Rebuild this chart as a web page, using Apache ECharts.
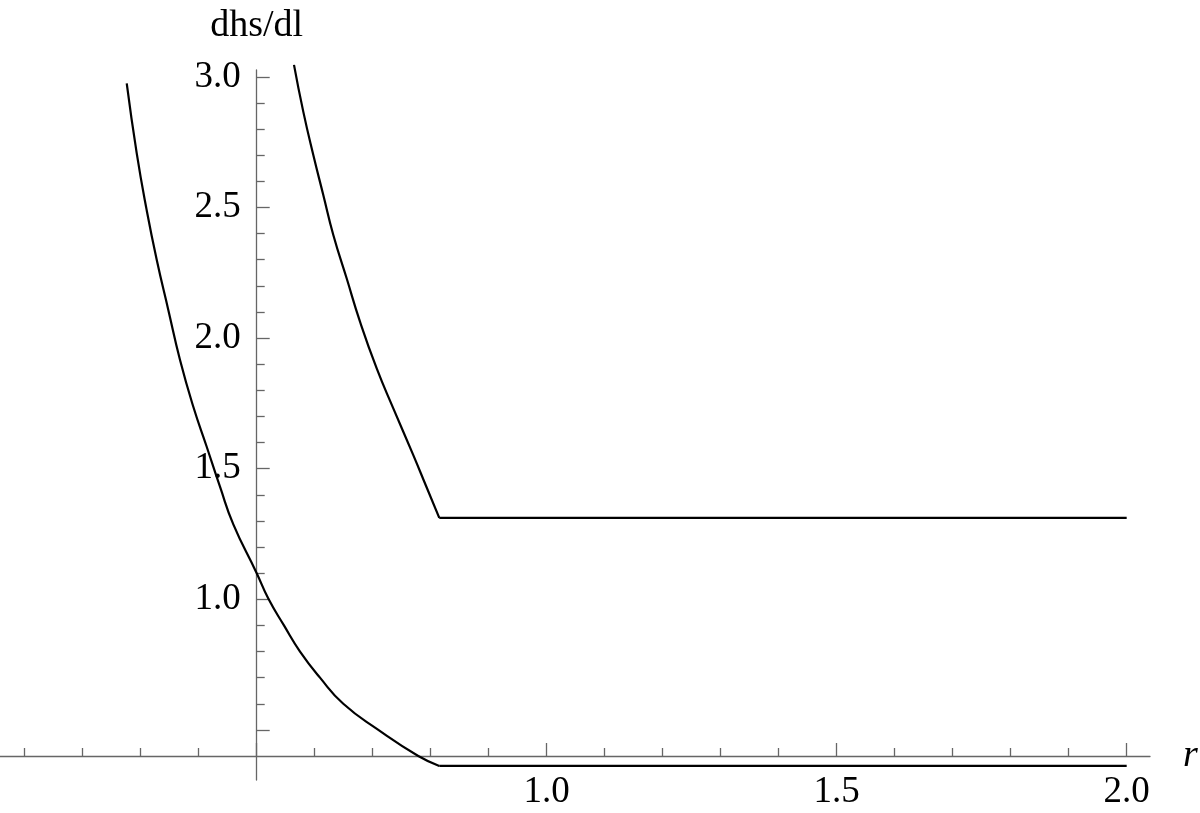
<!DOCTYPE html>
<html>
<head>
<meta charset="utf-8">
<title>dhs/dl</title>
<script src="https://cdn.jsdelivr.net/npm/echarts@6/dist/echarts.min.js"></script>
<style>
  html, body { margin: 0; padding: 0; background: #fff; }
  #chart { width: 1200px; height: 813px; }
</style>
</head>
<body>
<div id="chart"></div>
<script>
// curves
var lowerR = [0.2759, 0.2931, 0.3103, 0.3276, 0.3476, 0.3678, 0.3907, 0.4138, 0.4367, 0.4597, 0.5000, 0.5200, 0.5470, 0.5747, 0.6091, 0.6493, 0.7097, 0.7786, 0.8148];
var lowerH = [2.975, 2.708, 2.490, 2.300, 2.108, 1.916, 1.737, 1.584, 1.431, 1.287, 1.100, 1.003, 0.900, 0.800, 0.700, 0.600, 0.500, 0.400, 0.362];
var lowerFlatR = [0.8148, 2.0];
var lowerFlatH = [0.362, 0.362];

var upperR = [0.5643, 0.5803, 0.5976, 0.6148, 0.6321, 0.6552, 0.6781, 0.7069, 0.7355, 0.7700, 0.7931, 0.8148];
var upperH = [3.046, 2.867, 2.701, 2.548, 2.395, 2.228, 2.063, 1.884, 1.731, 1.552, 1.428, 1.312];
var upperFlatR = [0.8148, 2.0];
var upperFlatH = [1.312, 1.312];

// ticks
var xMajorTicks = [0.5, 1.0, 1.5, 2.0];
var xLabels = [1.0, 1.5, 2.0];
var xMinorTicks = [0.1, 0.2, 0.3, 0.4, 0.6, 0.7, 0.8, 0.9, 1.1, 1.2, 1.3, 1.4, 1.6, 1.7, 1.8, 1.9];
var yMajorTicks = [0.5, 1.0, 1.5, 2.0, 2.5, 3.0];
var yLabels = [1.0, 1.5, 2.0, 2.5, 3.0];
var yMinorTicks = [0.6, 0.7, 0.8, 0.9, 1.1, 1.2, 1.3, 1.4, 1.6, 1.7, 1.8, 1.9, 2.1, 2.2, 2.3, 2.4, 2.6, 2.7, 2.8, 2.9];

var xMin = 0.0574, xMax = 2.0402;
var yMin = 0.3082, yMax = 3.0264;

function pairs(xs, ys) {
  return xs.map(function (x, i) { return [x, ys[i]]; });
}

var axisColor = '#666';
var fontFamily = '"Liberation Serif", "DejaVu Serif", serif';

var chart = echarts.init(document.getElementById('chart'));

function xAxisBase() {
  return {
    type: 'value', min: xMin, max: xMax, position: 'bottom', offset: -24,
    splitLine: { show: false }
  };
}
function yAxisBase() {
  return {
    type: 'value', min: yMin, max: yMax, position: 'left', offset: -256.7,
    splitLine: { show: false }
  };
}

var xMain = xAxisBase();
xMain.axisLine = { onZero: false, lineStyle: { color: axisColor, width: 1.3 } };
xMain.axisTick = { inside: true, length: 13, customValues: xMajorTicks, lineStyle: { color: axisColor, width: 1.3 } };
xMain.axisLabel = {
  customValues: xLabels, margin: 18, fontSize: 37, fontFamily: fontFamily, color: '#000',
  formatter: function (v) { return v.toFixed(1); }
};
xMain.name = 'r';
xMain.nameLocation = 'end';
xMain.nameGap = 33;
xMain.nameTextStyle = { fontSize: 38, fontStyle: 'italic', fontFamily: fontFamily, color: '#000' };

var xMinor = xAxisBase();
xMinor.axisLine = { show: false, onZero: false };
xMinor.axisTick = { inside: true, length: 8, customValues: xMinorTicks, lineStyle: { color: axisColor, width: 1.3 } };
xMinor.axisLabel = { show: false };

var yMain = yAxisBase();
yMain.axisLine = { onZero: false, lineStyle: { color: axisColor, width: 1.3 } };
yMain.axisTick = { inside: true, length: 13, customValues: yMajorTicks, lineStyle: { color: axisColor, width: 1.3 } };
yMain.axisLabel = {
  customValues: yLabels, margin: 16, fontSize: 37, fontFamily: fontFamily, color: '#000',
  formatter: function (v) { return v.toFixed(1); }
};
yMain.name = 'dhs/dl';
yMain.nameLocation = 'end';
yMain.nameGap = 25;
yMain.nameTextStyle = { fontSize: 38, fontFamily: fontFamily, color: '#000' };

var yMinor = yAxisBase();
yMinor.axisLine = { show: false, onZero: false };
yMinor.axisTick = { inside: true, length: 8, customValues: yMinorTicks, lineStyle: { color: axisColor, width: 1.3 } };
yMinor.axisLabel = { show: false };

function lineSeries(data, smooth) {
  return {
    type: 'line', data: data, xAxisIndex: 0, yAxisIndex: 0,
    symbol: 'none', smooth: smooth, clip: false,
    lineStyle: { color: '#000', width: 2.2 },
    silent: true
  };
}

var option = {
  animation: false,
  backgroundColor: '#fff',
  grid: { left: 0, right: 50, top: 70, bottom: 33, containLabel: false, outerBoundsMode: 'none' },
  xAxis: [xMain, xMinor],
  yAxis: [yMain, yMinor],
  series: [
    lineSeries(pairs(lowerR, lowerH), 0.5),
    lineSeries(pairs(lowerFlatR, lowerFlatH), false),
    lineSeries(pairs(upperR, upperH), 0.5),
    lineSeries(pairs(upperFlatR, upperFlatH), false)
  ]
};
chart.setOption(option);
</script>
</body>
</html>
